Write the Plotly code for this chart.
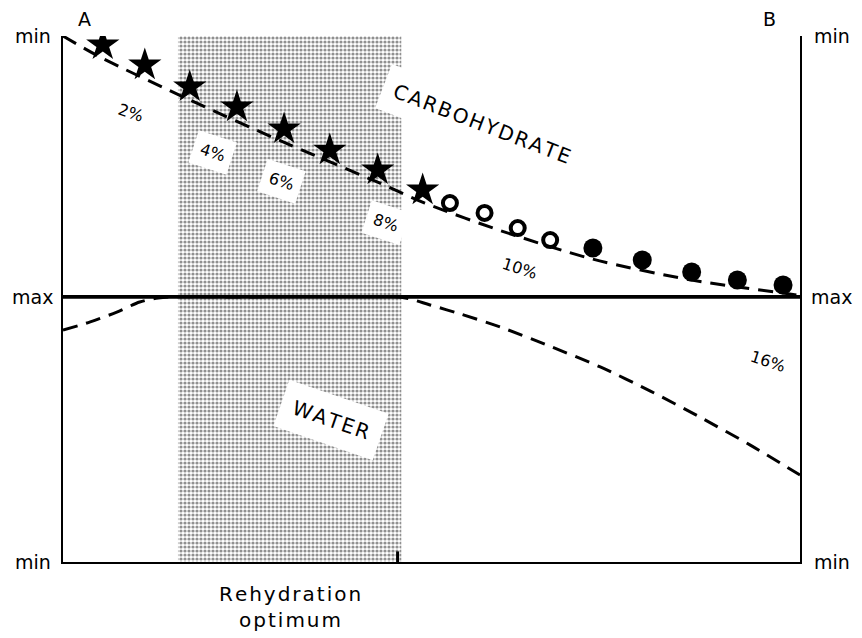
import plotly.graph_objects as go

# ---- data (positions along A→B as fraction 0..1; levels 0=min, 1=max) ----
optimum = [0.156, 0.459]

star_x = [0.054, 0.111, 0.172, 0.236, 0.300, 0.362, 0.427, 0.488]
star_v = [0.034, 0.111, 0.195, 0.272, 0.356, 0.437, 0.513, 0.590]

open_x = [0.525, 0.572, 0.617, 0.661]
open_v = [0.640, 0.678, 0.736, 0.782]

fill_x = [0.719, 0.786, 0.853, 0.915, 0.977]
fill_v = [0.812, 0.858, 0.904, 0.935, 0.954]

carb_x = [0.0, 0.050, 0.172, 0.294, 0.427, 0.491, 0.593, 0.719, 0.853, 0.977, 1.0]
carb_v = [0.0, 0.080, 0.245, 0.400, 0.560, 0.640, 0.745, 0.855, 0.935, 0.985, 0.994]

water_x = [0.0, 0.037, 0.073, 0.104, 0.129, 0.145, 0.250, 0.457, 0.498, 0.539,
           0.593, 0.660, 0.729, 0.797, 0.864, 0.932, 1.0]
water_v = [0.875, 0.906, 0.943, 0.981, 0.996, 1.0, 1.0, 1.0, 0.970, 0.936,
           0.887, 0.815, 0.736, 0.645, 0.547, 0.442, 0.328]

pct_labels = ["2%", "4%", "6%", "8%", "10%"]
pct_x = [0.091, 0.203, 0.297, 0.437, 0.620]
pct_v = [0.295, 0.448, 0.556, 0.716, 0.889]
pct_box = [False, True, True, True, False]

FONT = "DejaVu Sans"
split = 265 / 526

fig = go.Figure()

dash = "15px,9px"
shade = dict(shape=".", size=4, solidity=0.5, fgcolor="#222222", bgcolor="#ffffff")

for ya in ["y", "y2"]:
    fig.add_trace(go.Scatter(
        x=[optimum[0], optimum[1], optimum[1], optimum[0], optimum[0]],
        y=[0, 0, 1, 1, 0], yaxis=ya, mode="lines", line=dict(width=0),
        fill="toself", fillcolor="#b8b8b8", fillpattern=shade,
        hoverinfo="skip", showlegend=False))

# carbohydrate (top panel, y)
fig.add_trace(go.Scatter(x=carb_x, y=carb_v, yaxis="y", mode="lines",
                         line=dict(color="black", width=3, dash=dash, shape="spline", smoothing=0.8),
                         showlegend=False))
fig.add_trace(go.Scatter(x=star_x, y=star_v, yaxis="y", mode="markers",
                         marker=dict(symbol="star", size=25, color="black"),
                         showlegend=False))
fig.add_trace(go.Scatter(x=open_x, y=open_v, yaxis="y", mode="markers",
                         marker=dict(symbol="circle-open", size=14, color="black",
                                     line=dict(width=4, color="black")),
                         showlegend=False))
fig.add_trace(go.Scatter(x=fill_x, y=fill_v, yaxis="y", mode="markers",
                         marker=dict(symbol="circle", size=19, color="black"),
                         showlegend=False))

# water (bottom panel, y2)
fig.add_trace(go.Scatter(x=water_x, y=water_v, yaxis="y2", mode="lines",
                         line=dict(color="black", width=3, dash=dash, shape="spline", smoothing=0.8),
                         showlegend=False))

ann = []
for t, x, v, b in zip(pct_labels, pct_x, pct_v, pct_box):
    ann.append(dict(x=x, y=v, xref="x", yref="y", text=t, showarrow=False,
                    textangle=18, font=dict(family=FONT, size=16, color="black"),
                    bgcolor="white" if b else "rgba(0,0,0,0)", borderpad=7))
ann.append(dict(x=0.957, y=0.755, xref="x", yref="y2", text="16%", showarrow=False,
                textangle=18, font=dict(family=FONT, size=16, color="black")))

hs = "\u200a"
ann.append(dict(x=0.569, y=0.337, xref="x", yref="y", text=hs.join("CARBOHYDRATE"),
                showarrow=False, textangle=21, bgcolor="white", borderpad=11,
                font=dict(family=FONT, size=20, color="black")))
ann.append(dict(x=0.364, y=0.536, xref="x", yref="y2", text=hs.join("WATER"),
                showarrow=False, textangle=19, bgcolor="white", borderpad=12,
                font=dict(family=FONT, size=20, color="black")))

lab = dict(family=FONT, size=19, color="black")
for xp in [-0.041, 1.043]:
    ann.append(dict(x=xp, y=0, xref="paper", yref="y", text="min", xanchor="center",
                    showarrow=False, font=lab))
    ann.append(dict(x=xp, y=1, xref="paper", yref="y", text="max", xanchor="center",
                    showarrow=False, font=lab))
    ann.append(dict(x=xp, y=0, xref="paper", yref="y2", text="min", xanchor="center",
                    showarrow=False, font=lab))
ann.append(dict(x=0.029, y=1.0, xref="x", yref="paper", yanchor="bottom", yshift=4,
                xanchor="center", text="A", showarrow=False, font=lab))
ann.append(dict(x=0.958, y=1.0, xref="x", yref="paper", yanchor="bottom", yshift=4,
                xanchor="center", text="B", showarrow=False, font=lab))
ann.append(dict(x=sum(optimum) / 2, y=0, xref="x", yref="paper", yanchor="top", yshift=-18,
                xanchor="center",
                text=hs.join("Rehydration") + "<br>" + hs.join("optimum"), showarrow=False,
                font=dict(family=FONT, size=20, color="black")))

axis_common = dict(showline=True, linecolor="black", linewidth=2, mirror=True,
                   showgrid=False, zeroline=False, showticklabels=False, ticks="")

fig.update_layout(
    width=854, height=630,
    margin=dict(l=55, r=62, t=28, b=76),
    paper_bgcolor="white", plot_bgcolor="white",
    xaxis=dict(range=[0, 1], anchor="y2", **axis_common),
    xaxis2=dict(range=[0, 1], anchor="y", overlaying="x", **axis_common),
    yaxis=dict(domain=[split, 1], range=[1, 0], anchor="x", **axis_common),
    yaxis2=dict(domain=[0, split], range=[0, 1], anchor="x", **axis_common),
    annotations=ann,
    shapes=[
        dict(type="line", xref="paper", yref="paper", x0=0, x1=1, y0=split, y1=split,
             line=dict(color="black", width=3.5)),
        dict(type="line", xref="x", yref="y2", x0=optimum[1] - 0.005, x1=optimum[1] - 0.005,
             y0=0, y1=0.04, line=dict(color="black", width=3)),
    ],
)

fig.write_html("out.html")
